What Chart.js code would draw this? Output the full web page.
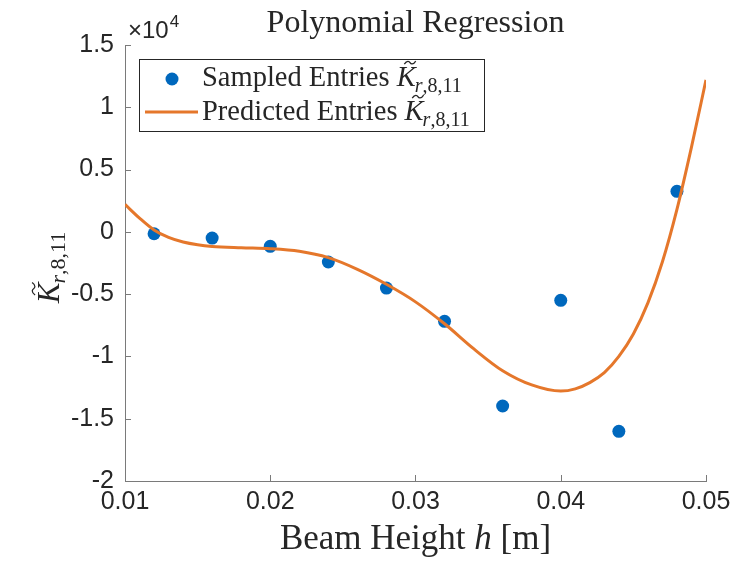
<!DOCTYPE html>
<html>
<head>
<meta charset="utf-8">
<script src="https://cdn.jsdelivr.net/npm/chart.js@4.4.0/dist/chart.umd.min.js"></script>
<style>
  html, body { margin: 0; padding: 0; background: #fff; }
</style>
</head>
<body>
<canvas id="chart" width="746" height="565"></canvas>
<script>
// sampled entries (blue dots)
const sampleX = [0.012, 0.016, 0.020, 0.024, 0.028, 0.032, 0.036, 0.040, 0.044, 0.048];
const sampleY = [-150, -500, -1160, -2420, -4510, -7180, -13980, -5500, -16010, 3250];

// predicted entries (orange curve)
const fitX = [0.010, 0.011, 0.012, 0.013, 0.014, 0.015, 0.016, 0.018, 0.020, 0.022, 0.024,
              0.026, 0.028, 0.030, 0.032, 0.034, 0.036, 0.038, 0.040, 0.041, 0.042,
              0.043, 0.044, 0.045, 0.046, 0.047, 0.048, 0.049, 0.050];
const fitY = [2200, 1100, 150, -450, -820, -1040, -1170, -1275, -1350, -1560, -2070,
              -3010, -4210, -5620, -7380, -9380, -11150, -12290, -12780, -12600, -12100,
              -11300, -10000, -8200, -5700, -2400, 1800, 6800, 12200];

const xTickVals = [0.01, 0.02, 0.03, 0.04, 0.05];
const yTickVals = [-20000, -15000, -10000, -5000, 0, 5000, 10000, 15000];

const BLUE = '#0068BD';
const ORANGE = '#E5772B';
const TEXT = '#262626';
const AXIS = '#7a7a7a';
const SERIF = '"Liberation Serif", "Times New Roman", serif';
const SANS = '"Liberation Sans", Arial, sans-serif';

// italic K with tilde and subscript r,8,11; returns width
function drawK(ctx, x, y, size, draw) {
  const sub = Math.round(size * 0.7);
  ctx.font = `italic ${size}px ${SERIF}`;
  const kw = ctx.measureText('K').width;
  ctx.font = `italic ${sub}px ${SERIF}`;
  const rw = ctx.measureText('r').width;
  ctx.font = `${sub}px ${SERIF}`;
  const cw = ctx.measureText(',8,11').width;
  const total = kw + rw + cw;
  if (!draw) return total;
  ctx.fillStyle = TEXT;
  ctx.textAlign = 'left';
  ctx.textBaseline = 'alphabetic';
  ctx.font = `italic ${size}px ${SERIF}`;
  ctx.fillText('K', x, y);
  // tilde
  const tx = x + kw * 0.7, ty = y - size * 0.82, tw = size * 0.2;
  ctx.beginPath();
  ctx.moveTo(tx - tw, ty + 1.5);
  ctx.bezierCurveTo(tx - tw * 0.5, ty - 3, tx - tw * 0.1, ty - 1, tx, ty);
  ctx.bezierCurveTo(tx + tw * 0.1, ty + 1, tx + tw * 0.5, ty + 3, tx + tw, ty - 1.5);
  ctx.lineWidth = 1.3;
  ctx.strokeStyle = TEXT;
  ctx.stroke();
  const sy = y + size * 0.2;
  ctx.font = `italic ${sub}px ${SERIF}`;
  ctx.fillText('r', x + kw - 1, sy);
  ctx.font = `${sub}px ${SERIF}`;
  ctx.fillText(',8,11', x + kw - 1 + rw, sy);
  return total;
}

const decorations = {
  id: 'decorations',
  afterDraw(chart) {
    const ctx = chart.ctx;
    const area = chart.chartArea;
    const xs = chart.scales.x, ys = chart.scales.y;
    ctx.save();

    // inward tick marks
    ctx.strokeStyle = AXIS;
    ctx.lineWidth = 1;
    ctx.beginPath();
    xTickVals.forEach(v => {
      const px = Math.round(xs.getPixelForValue(v)) + 0.5;
      ctx.moveTo(px, area.bottom);
      ctx.lineTo(px, area.bottom - 6);
    });
    yTickVals.forEach(v => {
      const py = Math.round(ys.getPixelForValue(v)) + 0.5;
      ctx.moveTo(area.left, py);
      ctx.lineTo(area.left + 6, py);
    });
    ctx.stroke();

    // title
    const cx = (area.left + area.right) / 2;
    ctx.fillStyle = TEXT;
    ctx.textAlign = 'center';
    ctx.textBaseline = 'alphabetic';
    ctx.font = `32px ${SERIF}`;
    ctx.fillText('Polynomial Regression', cx, 32);

    // exponent
    ctx.textAlign = 'left';
    ctx.font = `24px ${SANS}`;
    ctx.fillText('\u00d710', area.left + 3, 38);
    const w10 = ctx.measureText('\u00d710').width;
    ctx.font = `17px ${SANS}`;
    ctx.fillText('4', area.left + 3 + w10 + 1, 27);

    // x axis title
    const fs = 35;
    ctx.font = `${fs}px ${SERIF}`;
    const a = 'Beam Height ';
    const wa = ctx.measureText(a).width;
    ctx.font = `italic ${fs}px ${SERIF}`;
    const wh = ctx.measureText('h').width;
    ctx.font = `${fs}px ${SERIF}`;
    const wb = ctx.measureText(' [m]').width;
    let sx = cx - (wa + wh + wb) / 2;
    ctx.fillText(a, sx, 549);
    ctx.font = `italic ${fs}px ${SERIF}`;
    ctx.fillText('h', sx + wa, 549);
    ctx.font = `${fs}px ${SERIF}`;
    ctx.fillText(' [m]', sx + wa + wh, 549);

    // y axis title (rotated)
    ctx.save();
    ctx.translate(59, (area.top + area.bottom) / 2 + 4);
    ctx.rotate(-Math.PI / 2);
    const kw = drawK(ctx, 0, 0, 31, false);
    drawK(ctx, -kw / 2, 0, 31, true);
    ctx.restore();

    // legend
    const lx = 139.5, ly = 59.5, lw = 345, lh = 72;
    ctx.fillStyle = '#fff';
    ctx.fillRect(lx, ly, lw, lh);
    ctx.strokeStyle = TEXT;
    ctx.lineWidth = 1;
    ctx.strokeRect(lx, ly, lw, lh);
    ctx.fillStyle = BLUE;
    ctx.beginPath();
    ctx.arc(172, 79, 6.5, 0, Math.PI * 2);
    ctx.fill();
    ctx.strokeStyle = ORANGE;
    ctx.lineWidth = 3;
    ctx.beginPath();
    ctx.moveTo(145, 112);
    ctx.lineTo(198, 112);
    ctx.stroke();
    ctx.fillStyle = TEXT;
    ctx.textAlign = 'left';
    const lf = 28.5;
    ctx.font = `${lf}px ${SERIF}`;
    const s1 = 'Sampled Entries ';
    ctx.fillText(s1, 202, 86);
    drawK(ctx, 202 + ctx.measureText(s1).width, 86, lf, true);
    ctx.font = `${lf}px ${SERIF}`;
    const s2 = 'Predicted Entries ';
    ctx.fillText(s2, 202, 120);
    drawK(ctx, 202 + ctx.measureText(s2).width, 120, lf, true);

    ctx.restore();
  }
};

new Chart(document.getElementById('chart'), {
  type: 'scatter',
  data: {
    datasets: [
      {
        label: 'Sampled Entries',
        data: sampleX.map((x, i) => ({ x: x, y: sampleY[i] })),
        backgroundColor: BLUE,
        borderColor: BLUE,
        pointRadius: 6.5,
        pointHoverRadius: 6.5,
        borderWidth: 0,
        order: 2
      },
      {
        label: 'Predicted Entries',
        type: 'line',
        data: fitX.map((x, i) => ({ x: x, y: fitY[i] })),
        borderColor: ORANGE,
        borderWidth: 3,
        pointRadius: 0,
        fill: false,
        cubicInterpolationMode: 'monotone',
        order: 1
      }
    ]
  },
  options: {
    responsive: false,
    animation: false,
    devicePixelRatio: 1,
    layout: { padding: { left: 0, top: 45, right: 40, bottom: 0 } },
    plugins: {
      legend: { display: false },
      title: { display: false },
      tooltip: { enabled: false }
    },
    scales: {
      x: {
        type: 'linear',
        min: 0.01,
        max: 0.05,
        afterBuildTicks: s => { s.ticks = xTickVals.map(v => ({ value: v })); },
        afterFit: s => { s.height = 84; },
        grid: { display: true, drawOnChartArea: false, drawTicks: false },
        border: { display: true, color: AXIS, width: 1 },
        ticks: {
          padding: 6,
          color: TEXT,
          font: { family: SANS, size: 25 },
          maxRotation: 0,
          callback: v => v.toFixed(2)
        }
      },
      y: {
        type: 'linear',
        min: -20000,
        max: 15000,
        afterBuildTicks: s => { s.ticks = yTickVals.map(v => ({ value: v })); },
        afterFit: s => { s.width = 125; },
        grid: { display: true, drawOnChartArea: false, drawTicks: false },
        border: { display: true, color: AXIS, width: 1 },
        ticks: {
          padding: 11,
          color: TEXT,
          font: { family: SANS, size: 25 },
          callback: v => String(v / 10000)
        }
      }
    }
  },
  plugins: [decorations]
});
</script>
</body>
</html>
